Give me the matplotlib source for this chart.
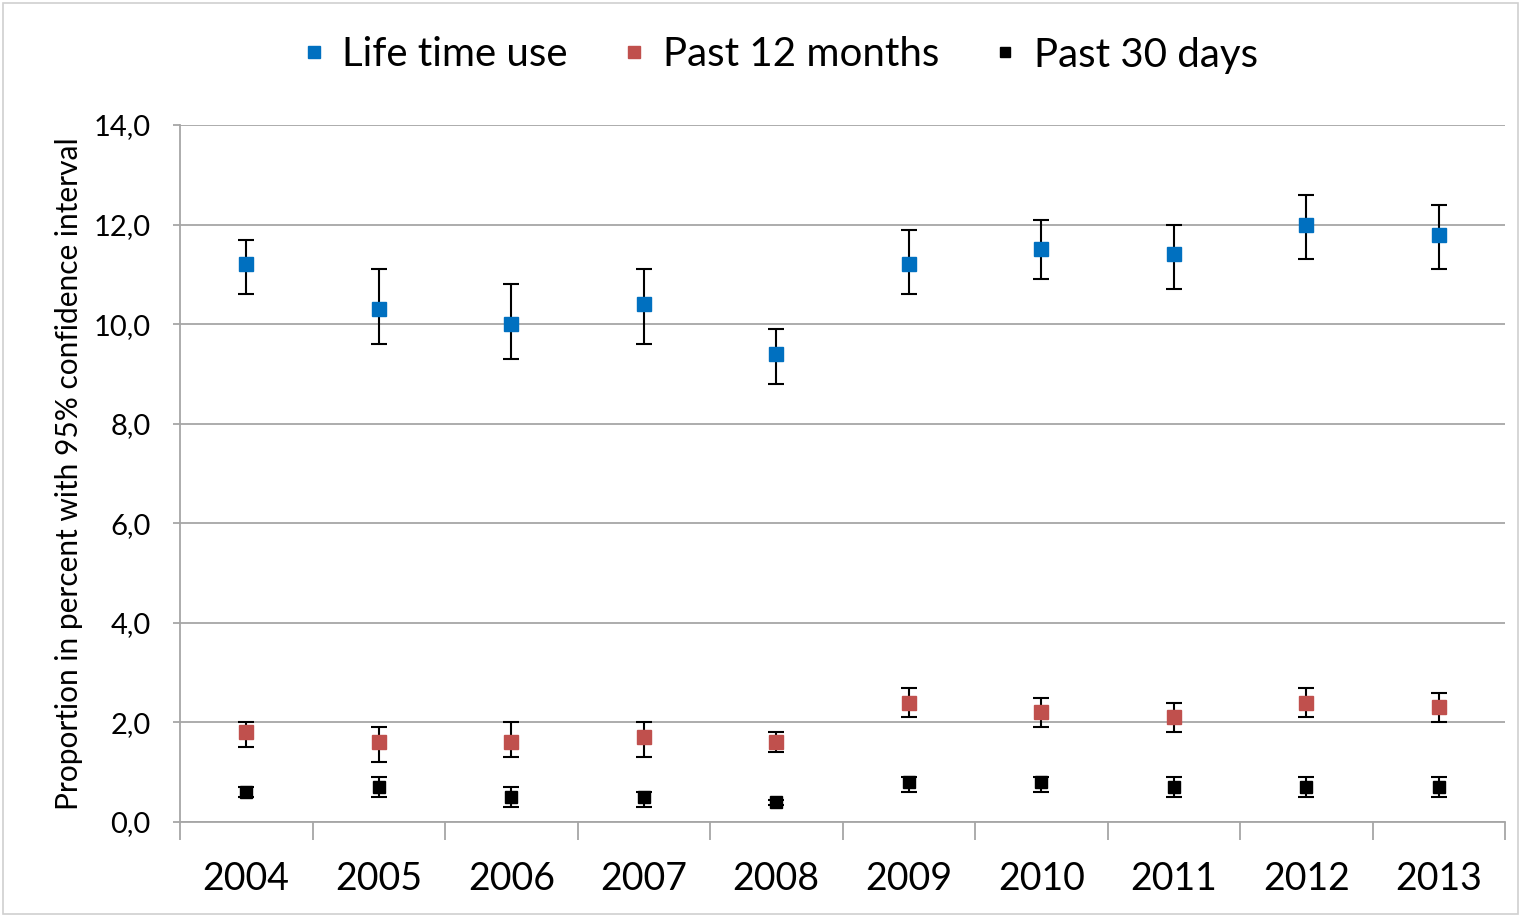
import matplotlib
matplotlib.use('Agg')
import matplotlib.pyplot as plt
from matplotlib.patches import Rectangle
from matplotlib.ticker import FuncFormatter

# data
years = ['2004', '2005', '2006', '2007', '2008', '2009', '2010', '2011', '2012', '2013']

life_mean = [11.2, 10.3, 10.0, 10.4, 9.4, 11.2, 11.5, 11.4, 12.0, 11.8]
life_low  = [10.6, 9.6, 9.3, 9.6, 8.8, 10.6, 10.9, 10.7, 11.3, 11.1]
life_high = [11.7, 11.1, 10.8, 11.1, 9.9, 11.9, 12.1, 12.0, 12.6, 12.4]

m12_mean = [1.8, 1.6, 1.6, 1.7, 1.6, 2.4, 2.2, 2.1, 2.4, 2.3]
m12_low  = [1.5, 1.2, 1.3, 1.3, 1.4, 2.1, 1.9, 1.8, 2.1, 2.0]
m12_high = [2.0, 1.9, 2.0, 2.0, 1.8, 2.7, 2.5, 2.4, 2.7, 2.6]

d30_mean = [0.6, 0.7, 0.5, 0.5, 0.4, 0.8, 0.8, 0.7, 0.7, 0.7]
d30_low  = [0.5, 0.5, 0.3, 0.3, 0.35, 0.6, 0.6, 0.5, 0.5, 0.5]
d30_high = [0.7, 0.9, 0.7, 0.6, 0.45, 0.9, 0.9, 0.9, 0.9, 0.9]

series = [
    ('Life time use', life_mean, life_low, life_high, '#0070C0', 10.5),
    ('Past 12 months', m12_mean, m12_low, m12_high, '#C0504D', 10.5),
    ('Past 30 days', d30_mean, d30_low, d30_high, '#000000', 8.5),
]

plt.rcParams['font.family'] = ['Lato', 'DejaVu Sans']

fig = plt.figure(figsize=(15.21, 9.17), dpi=100)
ax = fig.add_axes([180 / 1521, 95 / 917, 1325 / 1521, 697 / 917])

# chart area border
fig.patches.append(Rectangle((0.002, 0.003), 0.996, 0.994, transform=fig.transFigure,
                             fill=False, edgecolor='#D0D0D0', linewidth=1.2))

x = list(range(len(years)))
for label, mean, low, high, color, ms in series:
    err = [[m - l for m, l in zip(mean, low)], [h - m for m, h in zip(mean, high)]]
    ax.errorbar(x, mean, yerr=err, fmt='s', color=color, markersize=ms,
                ecolor='black', elinewidth=1.5, capsize=5.5, capthick=1.5,
                label=label, zorder=3)

ax.set_xlim(-0.5, len(years) - 0.5)
ax.set_ylim(0, 14)
ax.set_yticks([0, 2, 4, 6, 8, 10, 12, 14])
ax.yaxis.set_major_formatter(FuncFormatter(lambda v, p: ('%.1f' % v).replace('.', ',')))
ax.grid(axis='y', color='#A6A6A6', linewidth=1.3)
ax.set_axisbelow(True)

# category ticks between groups, labels centred
ax.set_xticks([i - 0.5 for i in range(len(years) + 1)])
ax.set_xticklabels([])
ax.set_xticks(x, minor=True)
ax.set_xticklabels(years, minor=True, fontsize=27)
ax.tick_params(axis='x', which='major', length=13, color='#A6A6A6', width=1.3)
ax.tick_params(axis='x', which='minor', length=0, pad=28)
ax.tick_params(axis='y', length=5, color='#A6A6A6', width=1.3, labelsize=21, pad=16)

for side in ['top', 'right']:
    ax.spines[side].set_visible(False)
for side in ['left', 'bottom']:
    ax.spines[side].set_color('#A6A6A6')
    ax.spines[side].set_linewidth(1.3)

ax.set_ylabel('Proportion in percent with 95% confidence interval', fontsize=21.5, labelpad=8)

handles, labels = ax.get_legend_handles_labels()
handles = [h[0] for h in handles]
leg = fig.legend(handles, labels, loc='center', bbox_to_anchor=(781 / 1521, 1 - 55 / 917), ncol=3,
                 frameon=False, fontsize=29, markerscale=0.8, handlelength=0.5,
                 handletextpad=0.45, columnspacing=1.4)

fig.savefig('out.png', dpi=100)
